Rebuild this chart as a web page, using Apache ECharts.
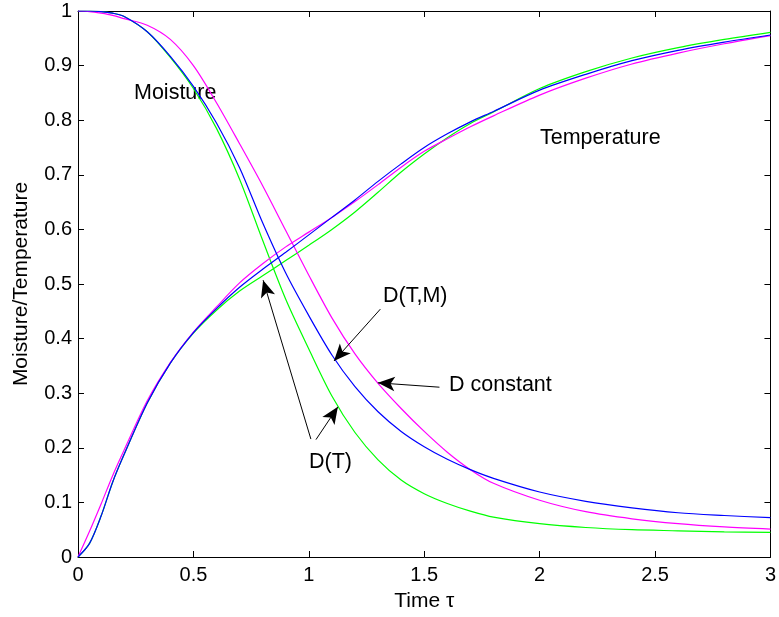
<!DOCTYPE html>
<html>
<head>
<meta charset="utf-8">
<script src="https://cdn.jsdelivr.net/npm/echarts@6/dist/echarts.min.js"></script>
<style>
html,body{margin:0;padding:0;background:#fff;}
#chart{width:779px;height:617px;}
</style>
</head>
<body>
<div id="chart"></div>
<script>
// Time grid (tau)
const tau = [0,0.05,0.1,0.15,0.2,0.3,0.4,0.5,0.6,0.7,0.8,0.9,1.0,1.1,1.2,1.3,1.4,1.5,1.6,1.7,1.8,2.0,2.2,2.4,2.6,2.8,3.0];

// Moisture curves
const moistDT     = [1.0,1.0,0.999,0.996,0.99,0.962,0.915,0.858,0.785,0.692,0.580,0.472,0.381,0.295,0.228,0.178,0.141,0.116,0.098,0.084,0.073,0.061,0.054,0.050,0.048,0.046,0.045];
const moistDTM    = [1.0,1.0,0.999,0.996,0.99,0.962,0.917,0.862,0.795,0.713,0.612,0.52,0.442,0.37,0.312,0.266,0.230,0.202,0.179,0.160,0.144,0.119,0.102,0.090,0.081,0.076,0.072];
const moistDconst = [1.0,0.999,0.996,0.992,0.986,0.974,0.948,0.900,0.832,0.757,0.680,0.598,0.516,0.438,0.372,0.318,0.272,0.230,0.192,0.160,0.135,0.104,0.083,0.070,0.061,0.055,0.051];

// Temperature curves
const tempDT      = [0,0.025,0.075,0.137,0.188,0.282,0.355,0.410,0.452,0.487,0.515,0.543,0.571,0.600,0.632,0.668,0.705,0.738,0.768,0.794,0.815,0.858,0.889,0.914,0.933,0.948,0.961];
const tempDTM     = [0,0.025,0.075,0.137,0.188,0.282,0.355,0.411,0.455,0.494,0.527,0.558,0.590,0.622,0.654,0.688,0.72,0.75,0.775,0.797,0.816,0.855,0.884,0.909,0.928,0.943,0.956];
const tempDconst  = [0,0.047,0.097,0.149,0.196,0.286,0.356,0.412,0.458,0.502,0.537,0.568,0.595,0.622,0.651,0.682,0.714,0.743,0.766,0.788,0.808,0.846,0.877,0.903,0.923,0.940,0.955];

// Annotation arrows (data coords: [tail, head])
const arrowDTM    = [[1.310,0.454],[1.109,0.359]];
const arrowDconst = [[1.566,0.311],[1.299,0.319]];
const arrowDT1    = [[1.009,0.216],[0.802,0.507]];
const arrowDT2    = [[1.031,0.215],[1.126,0.275]];

const FONT = '"Liberation Sans", Arial, Helvetica, sans-serif';
const pairs = (ys) => tau.map((t, i) => [t, ys[i]]);

const chart = echarts.init(document.getElementById('chart'), null, {renderer:'canvas'});

function lineSeries(name, ys, color, z) {
  return {
    name: name, type: 'line', data: pairs(ys), showSymbol: false, symbol: 'none',
    smooth: 0.3, z: z,
    lineStyle: {color: color, width: 1.2}, itemStyle: {color: color},
    animation: false, silent: true
  };
}
const arrowData = [arrowDTM, arrowDconst, arrowDT1, arrowDT2].map(a => [{coord: a[0]}, {coord: a[1]}]);
const annFont = '21.5px ' + FONT;

const option = {
  backgroundColor: '#fff',
  animation: false,
  grid: {left: 78, right: 5.5, top: 11, bottom: 58.5, containLabel: false},
  xAxis: [
    {type: 'value', min: 0, max: 3, interval: 0.5, position: 'bottom',
     name: 'Time τ', nameLocation: 'middle', nameGap: 34,
     nameTextStyle: {color: '#000', fontSize: 21, fontFamily: FONT},
     axisLine: {show: true, onZero: false, lineStyle: {color: '#000', width: 1}},
     axisTick: {show: true, inside: true, length: 6, lineStyle: {color: '#000'}},
     axisLabel: {color: '#000', fontSize: 20, fontFamily: FONT, margin: 8},
     splitLine: {show: false}},
    {type: 'value', min: 0, max: 3, interval: 0.5, position: 'top',
     axisLine: {show: true, onZero: false, lineStyle: {color: '#000', width: 1}},
     axisTick: {show: true, inside: true, length: 6, lineStyle: {color: '#000'}},
     axisLabel: {show: false}, splitLine: {show: false}}
  ],
  yAxis: [
    {type: 'value', min: 0, max: 1, interval: 0.1, position: 'left',
     name: 'Moisture/Temperature', nameLocation: 'middle', nameGap: 46,
     nameTextStyle: {color: '#000', fontSize: 21, fontFamily: FONT},
     axisLine: {show: true, onZero: false, lineStyle: {color: '#000', width: 1}},
     axisTick: {show: true, inside: true, length: 6, lineStyle: {color: '#000'}},
     axisLabel: {color: '#000', fontSize: 20, fontFamily: FONT, margin: 6},
     splitLine: {show: false}},
    {type: 'value', min: 0, max: 1, interval: 0.1, position: 'right',
     axisLine: {show: true, onZero: false, lineStyle: {color: '#000', width: 1}},
     axisTick: {show: true, inside: true, length: 6, lineStyle: {color: '#000'}},
     axisLabel: {show: false}, splitLine: {show: false}}
  ],
  series: [
    lineSeries('Moisture D(T)', moistDT, '#00ff00', 2),
    lineSeries('Moisture D constant', moistDconst, '#ff00ff', 3),
    lineSeries('Moisture D(T,M)', moistDTM, '#0000ff', 4),
    lineSeries('Temperature D(T)', tempDT, '#00ff00', 2),
    lineSeries('Temperature D constant', tempDconst, '#ff00ff', 3),
    lineSeries('Temperature D(T,M)', tempDTM, '#0000ff', 4),
    {
      name: 'arrows', type: 'line', data: [], silent: true, z: 6,
      markLine: {
        silent: true, animation: false,
        symbol: ['none', 'arrow'], symbolSize: [11, 17],
        label: {show: false},
        lineStyle: {color: '#000', width: 1, type: 'solid'},
        emphasis: {disabled: true},
        data: arrowData
      }
    }
  ],
  graphic: [
    {type: 'text', x: 134, y: 93, style: {text: 'Moisture', font: annFont, fill: '#000', align: 'left', verticalAlign: 'middle'}},
    {type: 'text', x: 540, y: 138, style: {text: 'Temperature', font: annFont, fill: '#000', align: 'left', verticalAlign: 'middle'}},
    {type: 'text', x: 383, y: 296, style: {text: 'D(T,M)', font: annFont, fill: '#000', align: 'left', verticalAlign: 'middle'}},
    {type: 'text', x: 449, y: 385, style: {text: 'D constant', font: annFont, fill: '#000', align: 'left', verticalAlign: 'middle'}},
    {type: 'text', x: 309, y: 462, style: {text: 'D(T)', font: annFont, fill: '#000', align: 'left', verticalAlign: 'middle'}}
  ]
};
chart.setOption(option);
</script>
</body>
</html>
